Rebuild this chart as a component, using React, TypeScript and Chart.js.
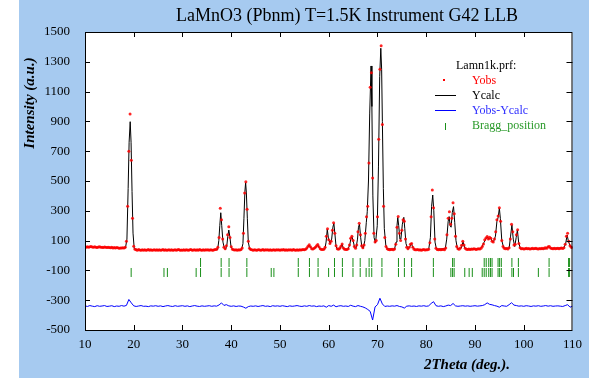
import { useEffect, useRef } from "react";
import { Chart, registerables } from "chart.js";

Chart.register(...registerables);

const W = 589;
const H = 380;

const TITLE = "LaMnO3 (Pbnm) T=1.5K Instrument G42 LLB";
const X_TITLE = "2Theta (deg.).";
const Y_TITLE = "Intensity (a.u.)";
const LEGEND_HEAD = "Lamn1k.prf:";
const LEGEND_LABELS = ["Yobs", "Ycalc", "Yobs-Ycalc", "Bragg_position"];

const X_MIN = 10;
const X_MAX = 110;
const X_STEP = 10;
const Y_MIN = -500;
const Y_MAX = 1500;
const Y_STEP = 200;

// Observed intensity, sampled every 0.25 deg from 10 deg
const OBS_START = 10;
const OBS_STEP = 0.25;
const OBS_I = [
  60, 56, 59, 55, 58, 61, 57, 55, 58, 56, 54, 57, 59, 55, 56, 53, 57, 55, 54, 56,
  54, 52, 55, 51, 53, 50, 54, 52, 49, 51, 50, 52, 50, 55, 95, 330, 700, 950, 640, 250,
  62, 42, 38, 36, 40, 37, 35, 39, 36, 38, 35, 37, 40, 36, 38, 35, 37, 39, 36, 38,
  36, 39, 35, 37, 40, 36, 38, 35, 37, 39, 36, 38, 35, 37, 39, 36, 38, 40, 36, 37,
  35, 38, 36, 39, 37, 35, 38, 40, 36, 37, 39, 35, 38, 36, 40, 37, 35, 38, 36, 39,
  37, 38, 36, 39, 37, 35, 38, 40, 42, 55, 120, 317, 240, 110, 55, 45, 65, 140, 193, 120,
  58, 42, 38, 37, 39, 36, 38, 37, 40, 50, 150, 420, 495, 310, 95, 48, 40, 38, 36, 39,
  37, 36, 39, 38, 35, 37, 40, 36, 38, 37, 39, 36, 38, 35, 37, 39, 36, 38, 37, 39,
  36, 38, 37, 40, 36, 38, 35, 39, 37, 38, 36, 40, 37, 35, 38, 36, 39, 37, 38, 40,
  39, 42, 50, 62, 72, 58, 46, 44, 48, 55, 65, 74, 58, 45, 41, 40, 42, 55, 130, 180,
  105, 80, 95, 170, 219, 150, 65, 45, 42, 48, 62, 78, 50, 42, 40, 41, 45, 70, 115, 130,
  100, 60, 48, 70, 160, 216, 140, 65, 52, 70, 150, 260, 330, 620, 1130, 1227, 520, 150, 90, 100,
  260, 780, 1250, 1408, 880, 330, 120, 60, 45, 40, 38, 40, 42, 39, 44, 75, 190, 262, 150, 100,
  170, 240, 230, 110, 55, 45, 55, 75, 80, 55, 42, 39, 38, 40, 37, 39, 36, 38, 40, 37,
  39, 38, 42, 85, 260, 440, 320, 110, 48, 40, 39, 41, 38, 40, 42, 39, 50, 140, 250, 294,
  210, 250, 354, 280, 130, 60, 45, 42, 50, 68, 95, 70, 48, 42, 40, 43, 41, 44, 42, 45,
  43, 41, 44, 46, 43, 48, 60, 78, 105, 118, 128, 110, 122, 115, 95, 90, 110, 160, 240, 265,
  320, 230, 100, 60, 48, 45, 47, 44, 52, 110, 210, 160, 70, 75, 140, 172, 80, 52, 45, 47,
  44, 46, 48, 45, 47, 44, 46, 48, 45, 47, 49, 46, 44, 47, 45, 48, 46, 50, 52, 48,
  58, 60, 50, 47, 46, 48, 45, 47, 49, 46, 48, 50, 47, 52, 75, 130, 150, 95, 65, 55,
  52,
];

// Calculated profile vertices [2theta, intensity]
const CALC: [number, number][] = [
  [10, 58], [12, 55], [14, 54], [16, 52], [17.5, 50], [18.3, 50], [18.6, 110], [18.85, 450],
  [19.05, 760], [19.27, 898], [19.45, 760], [19.65, 430], [19.85, 150], [20.1, 45], [21, 38],
  [25, 37], [30, 37], [35, 37], [37.2, 39], [37.45, 100], [37.65, 200], [37.85, 287], [38.05, 200],
  [38.3, 90], [38.6, 48], [38.85, 42], [39.1, 70], [39.3, 130], [39.5, 171], [39.7, 130], [39.95, 60],
  [40.3, 38], [42.1, 38], [42.4, 80], [42.6, 250], [42.8, 430], [42.95, 489], [43.1, 420], [43.3, 250],
  [43.5, 90], [43.8, 40], [46, 37], [50, 37], [55, 38], [55.4, 42], [55.7, 55], [56.0, 70], [56.3, 52],
  [56.7, 45], [57.1, 46], [57.45, 58], [57.75, 72], [58.1, 48], [58.6, 40], [59.2, 42], [59.45, 90],
  [59.7, 176], [59.95, 110], [60.3, 80], [60.6, 110], [60.85, 190], [61.05, 216], [61.25, 150],
  [61.5, 60], [61.8, 42], [62.35, 45], [62.7, 75], [63.05, 45], [63.9, 40], [64.3, 70], [64.55, 115],
  [64.77, 127], [65.0, 100], [65.3, 55], [65.6, 50], [65.9, 110], [66.1, 190], [66.3, 211], [66.55, 120],
  [66.8, 55], [67.1, 50], [67.4, 100], [67.7, 220], [67.9, 294], [68.15, 500], [68.4, 950], [68.68, 1272],
  [68.85, 1000], [69.05, 400], [69.3, 120], [69.6, 85], [69.95, 200], [70.2, 600], [70.45, 1200],
  [70.68, 1391], [70.85, 1250], [71.0, 900], [71.2, 450], [71.4, 180], [71.7, 70], [72.0, 45],
  [73.5, 42], [73.8, 90], [74.0, 200], [74.16, 256], [74.35, 200], [74.6, 110], [74.8, 110], [75.1, 210],
  [75.4, 256], [75.6, 180], [75.85, 80], [76.2, 45], [76.6, 55], [76.94, 82], [77.3, 50], [77.8, 40],
  [80.5, 40], [80.85, 120], [81.1, 330], [81.33, 406], [81.55, 300], [81.8, 90], [82.1, 42], [83.9, 45],
  [84.2, 110], [84.5, 230], [84.7, 261], [84.9, 200], [85.1, 190], [85.35, 290], [85.6, 328], [85.85, 220],
  [86.1, 100], [86.4, 45], [87.2, 50], [87.55, 93], [87.9, 50], [88.5, 42], [91.0, 45], [91.4, 55],
  [91.8, 85], [92.2, 110], [92.55, 125], [92.85, 108], [93.2, 120], [93.5, 95], [93.8, 92], [94.2, 130],
  [94.5, 230], [94.75, 255], [95.0, 317], [95.2, 250], [95.5, 100], [95.9, 50], [97.0, 48], [97.3, 130],
  [97.57, 205], [97.85, 110], [98.15, 60], [98.45, 120], [98.7, 171], [98.95, 90], [99.3, 45],
  [104.5, 45], [104.85, 55], [105.1, 60], [105.4, 48], [108.2, 50], [108.6, 80], [108.9, 137],
  [109.2, 90], [109.6, 60], [110, 55],
];

// Difference curve (offset), sampled every 0.5 deg from 10 deg
const DIFF_START = 10;
const DIFF_STEP = 0.5;
const DIFF_I = [
  -338, -342, -336, -340, -343, -337, -341, -339, -336, -342,
  -340, -337, -343, -339, -341, -336, -340, -335, -295, -318,
  -338, -342, -339, -336, -341, -340, -343, -338, -340, -337,
  -341, -338, -343, -339, -336, -340, -342, -337, -341, -339,
  -337, -341, -338, -343, -339, -336, -340, -342, -338, -341,
  -339, -337, -341, -338, -340, -332, -318, -335, -330, -338,
  -341, -338, -342, -339, -340, -346, -354, -343, -339, -341,
  -338, -342, -339, -336, -341, -339, -343, -337, -340, -338,
  -341, -337, -340, -343, -338, -341, -339, -336, -340, -342,
  -338, -341, -336, -340, -338, -343, -339, -341, -338, -347,
  -336, -341, -333, -344, -339, -337, -341, -339, -342, -334,
  -340, -343, -336, -341, -345, -352, -362, -375, -433, -345,
  -330, -287, -325, -342, -339, -341, -338, -340, -336, -342,
  -345, -353, -340, -338, -341, -339, -342, -338, -340, -337,
  -341, -338, -322, -310, -337, -341, -338, -343, -339, -333,
  -336, -322, -338, -341, -339, -337, -340, -338, -341, -339,
  -337, -340, -338, -336, -330, -318, -328, -331, -336, -340,
  -347, -336, -339, -341, -330, -317, -333, -336, -340, -338,
  -341, -337, -339, -342, -338, -340, -337, -341, -339, -336,
  -340, -337, -341, -339, -338, -340, -342, -336, -330, -347,
  -340,
];

// Bragg reflection positions (two rows of markers)
const BRAGG_ROW1 = [
  33.7, 37.93, 39.55, 43.2, 53.75, 56.04, 57.81, 61.18, 62.8, 64.97, 66.45, 68.28, 68.82, 70.91,
  74.3, 75.52, 77.0, 81.46, 85.4, 85.72, 91.89, 92.3, 92.82, 93.17, 93.5, 94.73, 95.05, 95.4,
  97.57, 98.9, 105.2, 109.2, 109.4,
];
const BRAGG_ROW1_LEVEL = -47;
const BRAGG_ROW2 = [
  19.47, 26.2, 26.9, 32.8, 33.7, 37.93, 39.55, 43.2, 48.2, 48.75, 53.75, 56.04, 57.81, 59.97,
  61.18, 62.8, 64.97, 66.45, 67.67, 68.28, 68.82, 70.91, 74.3, 75.52, 77.0, 81.46, 85.05, 85.4,
  85.72, 87.9, 88.8, 89.45, 91.48, 91.89, 92.3, 92.82, 93.17, 93.5, 94.73, 95.05, 95.4, 97.57,
  97.9, 98.9, 103.0, 105.2, 109.2, 109.4,
];
const BRAGG_ROW2_LEVEL = -114;

const BG_BLUE = "#A6CAF0";
const RED = "#ff0000";
const BLUE = "#0000ff";
const GREEN = "#1a8f1a";
const SERIF = '"Liberation Serif", "Times New Roman", serif';

const decor = {
  id: "decor",
  beforeDraw(chart: any) {
    const { ctx, chartArea: a } = chart;
    ctx.save();
    ctx.fillStyle = "#ffffff";
    ctx.fillRect(0, 0, W, H);
    ctx.fillStyle = BG_BLUE;
    ctx.fillRect(19, 0, W - 19, 378);
    ctx.fillStyle = "#ffffff";
    ctx.fillRect(a.left, a.top, a.right - a.left, a.bottom - a.top);
    ctx.restore();
  },
  afterDraw(chart: any) {
    const { ctx, chartArea: a, scales } = chart;
    const xs = scales.x;
    const ys = scales.y;
    ctx.save();
    // frame
    ctx.strokeStyle = "#000";
    ctx.lineWidth = 1;
    ctx.strokeRect(a.left + 0.5, a.top + 0.5, a.right - a.left - 1, a.bottom - a.top);
    // inside ticks
    ctx.beginPath();
    for (let v = X_MIN + X_STEP; v < X_MAX; v += X_STEP) {
      const px = Math.round(xs.getPixelForValue(v)) + 0.5;
      ctx.moveTo(px, a.bottom);
      ctx.lineTo(px, a.bottom - 5);
      ctx.moveTo(px, a.top);
      ctx.lineTo(px, a.top + 5);
    }
    for (let v = Y_MIN + Y_STEP; v < Y_MAX; v += Y_STEP) {
      const py = Math.round(ys.getPixelForValue(v)) + 0.5;
      ctx.moveTo(a.left, py);
      ctx.lineTo(a.left + 5, py);
      ctx.moveTo(a.right, py);
      ctx.lineTo(a.right - 6, py);
    }
    ctx.stroke();

    // title
    ctx.fillStyle = "#000";
    ctx.textBaseline = "middle";
    ctx.textAlign = "center";
    ctx.font = `18px ${SERIF}`;
    ctx.fillText(TITLE, 347, 16);

    // axis titles
    ctx.font = `bold italic 15px ${SERIF}`;
    ctx.fillText(X_TITLE, 467, 365);
    ctx.save();
    ctx.translate(30, 103);
    ctx.rotate(-Math.PI / 2);
    ctx.fillText(Y_TITLE, 0, 0);
    ctx.restore();

    // legend
    ctx.textAlign = "left";
    ctx.font = `12px ${SERIF}`;
    ctx.fillStyle = "#000";
    ctx.fillText(LEGEND_HEAD, 456, 66);
    const colors = [RED, "#000", "#3030ff", "#2a9a2a"];
    const rows = [81, 96, 111, 126];
    LEGEND_LABELS.forEach((lab, i) => {
      ctx.fillStyle = colors[i];
      ctx.fillText(lab, 472, rows[i]);
    });
    ctx.fillStyle = RED;
    ctx.fillRect(443, 79, 2, 2);
    ctx.lineWidth = 1;
    ctx.strokeStyle = "#000";
    ctx.beginPath();
    ctx.moveTo(435, 95.5);
    ctx.lineTo(456, 95.5);
    ctx.stroke();
    ctx.strokeStyle = BLUE;
    ctx.beginPath();
    ctx.moveTo(435, 110.5);
    ctx.lineTo(456, 110.5);
    ctx.stroke();
    ctx.strokeStyle = GREEN;
    ctx.beginPath();
    ctx.moveTo(445.5, 123);
    ctx.lineTo(445.5, 130);
    ctx.stroke();
    ctx.restore();
  },
};

export default function App() {
  const ref = useRef<HTMLCanvasElement | null>(null);

  useEffect(() => {
    const canvas = ref.current;
    if (!canvas) return;
    const obsPts = OBS_I.map((v, i) => ({ x: OBS_START + i * OBS_STEP, y: v }));
    const calcPts = CALC.map(([x, y]) => ({ x, y }));
    const diffPts = DIFF_I.map((v, i) => ({ x: DIFF_START + i * DIFF_STEP, y: v }));
    const b1 = BRAGG_ROW1.map((x) => ({ x, y: BRAGG_ROW1_LEVEL }));
    const b2 = BRAGG_ROW2.map((x) => ({ x, y: BRAGG_ROW2_LEVEL }));

    const tickFont = { family: SERIF, size: 13 };

    const chart = new Chart(canvas, {
      type: "scatter",
      data: {
        datasets: [
          {
            label: "Yobs",
            data: obsPts,
            showLine: false,
            pointRadius: 1.5,
            pointBackgroundColor: "rgba(255,0,0,0.85)",
            pointBorderWidth: 0,
            order: 0,
          } as any,
          {
            type: "line",
            label: "Ycalc",
            data: calcPts,
            borderColor: "#000",
            borderWidth: 1,
            pointRadius: 0,
            fill: false,
            tension: 0,
            order: 1,
          } as any,
          {
            type: "line",
            label: "Yobs-Ycalc",
            data: diffPts,
            borderColor: BLUE,
            borderWidth: 1,
            pointRadius: 0,
            fill: false,
            tension: 0,
            order: 2,
          } as any,
          {
            label: "Bragg_position",
            data: b1,
            showLine: false,
            pointStyle: "line",
            rotation: 90,
            pointRadius: 4.5,
            pointBorderColor: GREEN,
            pointBorderWidth: 1,
            order: 3,
          } as any,
          {
            label: "Bragg_position 2",
            data: b2,
            showLine: false,
            pointStyle: "line",
            rotation: 90,
            pointRadius: 4.5,
            pointBorderColor: GREEN,
            pointBorderWidth: 1,
            order: 4,
          } as any,
        ],
      },
      options: {
        responsive: false,
        animation: false,
        devicePixelRatio: 1,
        layout: { padding: { left: 0, right: 11, top: 32, bottom: 0 } },
        plugins: {
          legend: { display: false },
          tooltip: { enabled: false },
          title: { display: false },
        },
        scales: {
          x: {
            type: "linear",
            min: X_MIN,
            max: X_MAX,
            grid: { display: false, drawTicks: false },
            border: { display: false },
            ticks: {
              stepSize: X_STEP,
              padding: 7,
              color: "#000",
              font: tickFont,
              maxRotation: 0,
              autoSkip: false,
              callback: (v: any) => String(v),
            },
            afterFit(s: any) {
              s.height = 50;
            },
          },
          y: {
            type: "linear",
            min: Y_MIN,
            max: Y_MAX,
            grid: { display: false, drawTicks: false },
            border: { display: false },
            ticks: {
              stepSize: Y_STEP,
              padding: 15,
              color: "#000",
              font: tickFont,
              autoSkip: false,
              callback: (v: any) => String(v),
            },
            afterFit(s: any) {
              s.width = 85;
            },
          },
        },
      } as any,
      plugins: [decor],
    });

    return () => chart.destroy();
  }, []);

  return (
    <div style={{ position: "fixed", left: 0, top: 0, width: W, height: H, background: "#fff" }}>
      <canvas ref={ref} width={W} height={H} style={{ display: "block", width: W, height: H }} />
    </div>
  );
}
